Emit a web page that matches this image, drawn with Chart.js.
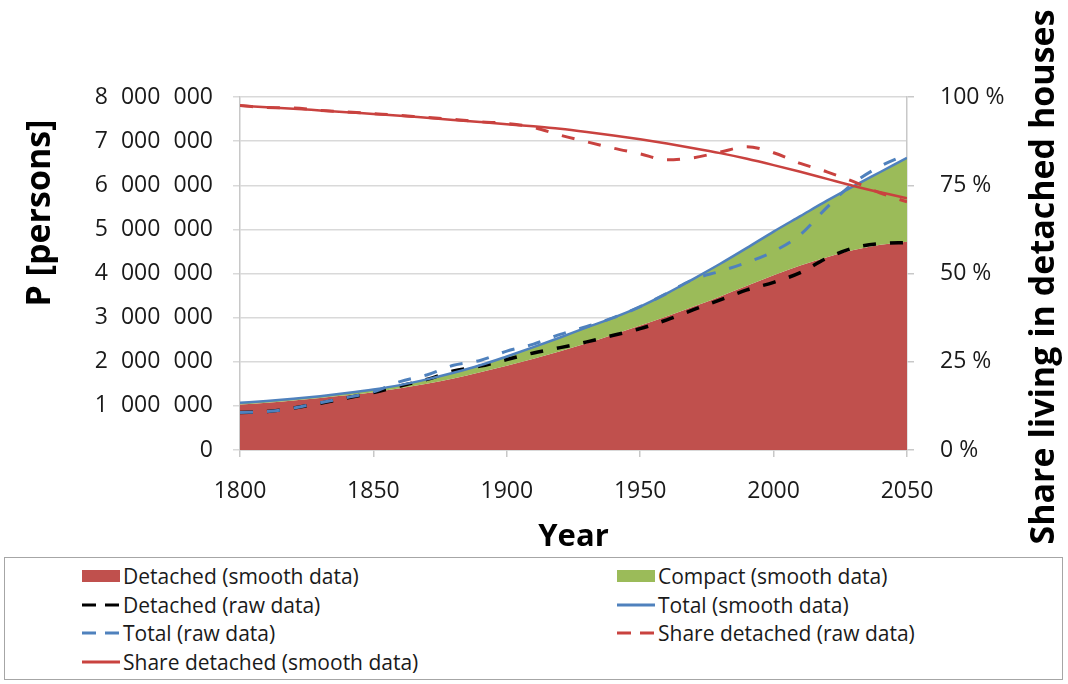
<!DOCTYPE html>
<html>
<head>
<meta charset="utf-8">
<script src="https://cdn.jsdelivr.net/npm/chart.js@4.4.1/dist/chart.umd.min.js"></script>
<style>
    body { margin: 0; background: #fff; width: 1068px; height: 684px; overflow: hidden; font-family: "Open Sans", sans-serif; }
    .grafico { position: relative; width: 1068px; height: 556px; }
    .legenda {
        position: absolute; left: 4px; top: 557px; width: 1059px; height: 123px;
        border: 1px solid #a6a6a6; box-sizing: border-box; padding-top: 4px;
    }
    .linha { display: flex; height: 28.5px; align-items: center; }
    .item { display: flex; align-items: center; font-size: 21px; color: #1a1a1a; white-space: nowrap; }
    .item svg { margin-right: 3px; }
    .col1 { position: absolute; left: 77px; }
    .col2 { position: absolute; left: 612px; }
</style>
</head>
<body>
<div class="grafico"><canvas id="meuGrafico"></canvas></div>
<div class="legenda" id="legenda"></div>

<script>
// years on the x axis (every 10 years)
const years = [1800, 1810, 1820, 1830, 1840, 1850, 1860, 1870, 1880, 1890, 1900, 1910, 1920,
               1930, 1940, 1950, 1960, 1970, 1980, 1990, 2000, 2010, 2020, 2030, 2040, 2050];

// persons
const detachedSmooth = [1030000, 1070000, 1120000, 1180000, 1240000, 1310000, 1400000, 1500000, 1620000,
                        1760000, 1910000, 2070000, 2240000, 2420000, 2620000, 2820000, 3030000, 3250000,
                        3480000, 3720000, 3960000, 4180000, 4370000, 4530000, 4650000, 4720000];
const totalSmooth = [1070000, 1110000, 1160000, 1220000, 1290000, 1370000, 1470000, 1600000, 1750000,
                     1920000, 2120000, 2330000, 2550000, 2780000, 3000000, 3250000, 3550000, 3880000,
                     4220000, 4580000, 4950000, 5300000, 5650000, 5980000, 6300000, 6620000];
const detachedRaw = [850000, 870000, 950000, 1060000, 1180000, 1300000, 1450000, 1600000, 1790000,
                     1900000, 2050000, 2200000, 2320000, 2450000, 2600000, 2750000, 2950000, 3180000,
                     3400000, 3630000, 3800000, 4020000, 4350000, 4580000, 4680000, 4700000];
const totalRaw = [850000, 870000, 950000, 1070000, 1190000, 1320000, 1550000, 1700000, 1920000,
                  2030000, 2240000, 2400000, 2620000, 2800000, 3000000, 3250000, 3550000, 3870000,
                  4050000, 4250000, 4500000, 4880000, 5500000, 6050000, 6430000, 6700000];

// share living in detached houses (%)
const shareRaw = [97.6, 97.0, 96.9, 96.2, 95.8, 95.3, 94.8, 94.2, 93.7, 93.0, 92.5, 91.4, 89.2,
                  87.3, 85.5, 83.9, 82.2, 82.8, 84.4, 85.9, 84.2, 81.2, 78.8, 76.0, 72.8, 70.3];
const shareSmooth = [97.5, 97.1, 96.7, 96.2, 95.7, 95.2, 94.7, 94.1, 93.5, 92.9, 92.3, 91.7, 91.0,
                     90.1, 89.1, 88.0, 86.8, 85.5, 84.1, 82.5, 80.7, 78.8, 76.8, 74.8, 73.0, 71.3];

const leftTicks = [0, 1000000, 2000000, 3000000, 4000000, 5000000, 6000000, 7000000, 8000000];
const rightTicks = [0, 25, 50, 75, 100];

const vermelho = '#C0504D';
const verde = '#9BBB59';
const azul = '#4F81BD';
const linhaVermelha = '#C9423F';

function pontos(valores) {
    return years.map(function (ano, i) { return { x: ano, y: valores[i] }; });
}

// vertical axis titles (Excel style: reading bottom to top)
const titulosEixos = {
    id: 'titulosEixos',
    afterDraw: function (chart) {
        const ctx = chart.ctx;
        ctx.save();
        ctx.fillStyle = '#000';
        ctx.font = 'bold 34px "Open Sans"';
        ctx.textAlign = 'center';
        ctx.textBaseline = 'middle';

        ctx.save();
        ctx.translate(40, 213);
        ctx.rotate(-Math.PI / 2);
        ctx.fillText('P [persons]', 0, 0);
        ctx.restore();

        ctx.save();
        ctx.translate(1044, 277);
        ctx.rotate(-Math.PI / 2);
        ctx.fillText('Share living in detached houses', 0, 0);
        ctx.restore();

        ctx.restore();
    }
};

const ctx = document.getElementById('meuGrafico').getContext('2d');

const meuGrafico = new Chart(ctx, {
    type: 'line',
    data: {
        datasets: [
            {
                label: 'Detached (smooth data)',
                data: pontos(detachedSmooth),
                yAxisID: 'y',
                borderWidth: 0,
                borderColor: vermelho,
                backgroundColor: vermelho,
                fill: 'origin',
                order: 10
            },
            {
                label: 'Compact (smooth data)',
                data: pontos(totalSmooth),
                yAxisID: 'y',
                borderWidth: 0,
                borderColor: verde,
                backgroundColor: verde,
                fill: '-1',
                order: 9
            },
            {
                label: 'Detached (raw data)',
                data: pontos(detachedRaw),
                yAxisID: 'y',
                borderColor: '#000',
                borderWidth: 3.5,
                borderDash: [13, 14],
                fill: false,
                order: 5
            },
            {
                label: 'Total (smooth data)',
                data: pontos(totalSmooth),
                yAxisID: 'y',
                borderColor: azul,
                borderWidth: 2.5,
                fill: false,
                order: 4
            },
            {
                label: 'Total (raw data)',
                data: pontos(totalRaw),
                yAxisID: 'y',
                borderColor: azul,
                borderWidth: 3,
                borderDash: [13, 14],
                fill: false,
                order: 3
            },
            {
                label: 'Share detached (raw data)',
                data: pontos(shareRaw),
                yAxisID: 'y2',
                borderColor: linhaVermelha,
                borderWidth: 3,
                borderDash: [13, 14],
                fill: false,
                order: 2
            },
            {
                label: 'Share detached (smooth data)',
                data: pontos(shareSmooth),
                yAxisID: 'y2',
                borderColor: linhaVermelha,
                borderWidth: 2.5,
                fill: false,
                order: 1
            }
        ]
    },
    options: {
        responsive: true,
        maintainAspectRatio: false,
        animation: false,
        cubicInterpolationMode: 'monotone',
        elements: { point: { radius: 0 } },
        layout: { padding: { top: 97, left: 0, right: 0, bottom: 0 } },
        plugins: {
            legend: { display: false },
            tooltip: { enabled: false }
        },
        scales: {
            x: {
                type: 'linear',
                min: 1800,
                max: 2050,
                afterFit: function (scale) { scale.height = 106; },
                afterBuildTicks: function (scale) {
                    scale.ticks = [1800, 1850, 1900, 1950, 2000, 2050].map(function (v) { return { value: v }; });
                },
                ticks: {
                    padding: 21,
                    color: '#1a1a1a',
                    font: { size: 23, family: 'Open Sans' },
                    callback: function (v) { return String(v); }
                },
                grid: { drawOnChartArea: false, tickLength: 7, color: '#c8c8c8', lineWidth: 1.5 },
                border: { color: '#c8c8c8', width: 1.5 },
                title: {
                    display: true,
                    text: 'Year',
                    color: '#000',
                    font: { size: 31, weight: 'bold', family: 'Open Sans' },
                    padding: 0
                }
            },
            y: {
                position: 'left',
                min: 0,
                max: 8000000,
                afterFit: function (scale) { scale.width = 240; },
                afterBuildTicks: function (scale) {
                    scale.ticks = leftTicks.map(function (v) { return { value: v }; });
                },
                ticks: {
                    padding: 20,
                    color: '#1a1a1a',
                    font: { size: 23, family: 'Open Sans' },
                    callback: function (v) {
                        return String(v).replace(/\B(?=(\d{3})+(?!\d))/g, '\u2007');
                    }
                },
                grid: { color: '#d9d9d9', lineWidth: 1.5, tickLength: 7 },
                border: { color: '#c8c8c8', width: 1.5 }
            },
            y2: {
                position: 'right',
                min: 0,
                max: 100,
                afterFit: function (scale) { scale.width = 161; },
                afterBuildTicks: function (scale) {
                    scale.ticks = rightTicks.map(function (v) { return { value: v }; });
                },
                ticks: {
                    padding: 26,
                    color: '#1a1a1a',
                    font: { size: 23, family: 'Open Sans' },
                    callback: function (v) { return v + ' %'; }
                },
                grid: { drawOnChartArea: false, tickLength: 7, color: '#c8c8c8', lineWidth: 1.5 },
                border: { color: '#c8c8c8', width: 1.5 }
            }
        }
    },
    plugins: [titulosEixos]
});

// legend in two columns, built from the chart datasets
function simbolo(ds, i) {
    if (i < 2) {
        return '<svg width="38" height="14"><rect x="0" y="1" width="38" height="12" fill="' + ds.backgroundColor + '"/></svg>';
    }
    let traco = ds.borderDash ? ' stroke-dasharray="14 9"' : '';
    return '<svg width="38" height="14"><line x1="0" y1="7" x2="38" y2="7" stroke="' + ds.borderColor +
           '" stroke-width="3"' + traco + '/></svg>';
}

function montarLegenda(chart) {
    let html = '';
    const lista = chart.data.datasets;
    for (let i = 0; i < lista.length; i += 2) {
        html += '<div class="linha">';
        html += '<div class="item col1">' + simbolo(lista[i], i) + lista[i].label + '</div>';
        if (lista[i + 1]) {
            html += '<div class="item col2">' + simbolo(lista[i + 1], i + 1) + lista[i + 1].label + '</div>';
        }
        html += '</div>';
    }
    document.getElementById('legenda').innerHTML = html;
}

montarLegenda(meuGrafico);
</script>
</body>
</html>
